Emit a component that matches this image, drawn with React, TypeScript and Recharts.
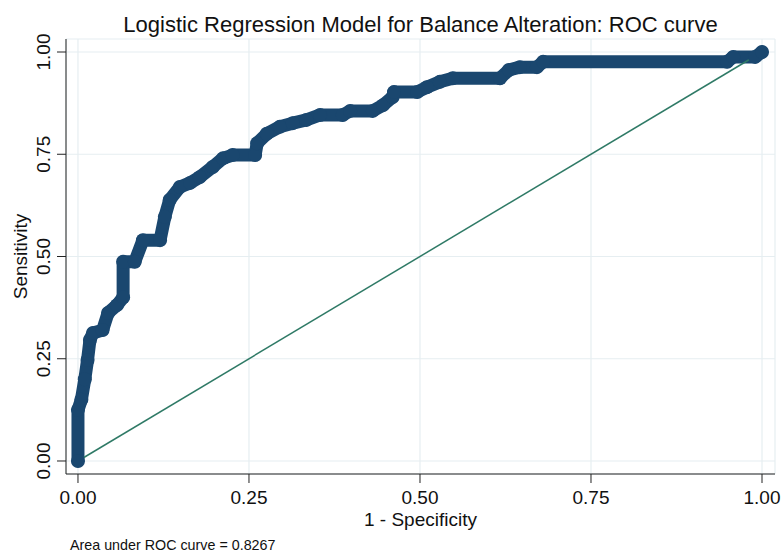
import React from 'react';
import { LineChart, Line, XAxis, YAxis, CartesianGrid } from 'recharts';

// ROC curve points (1 - specificity, sensitivity)
const fprValues = [
  0, 0, 0.005, 0.01, 0.014, 0.0175, 0.022, 0.036, 0.044, 0.057, 0.066, 0.066,
  0.083, 0.095, 0.12, 0.127, 0.134, 0.149, 0.164, 0.178, 0.197, 0.212, 0.226,
  0.259, 0.262, 0.276, 0.295, 0.314, 0.334, 0.354, 0.387, 0.398, 0.431, 0.446,
  0.46, 0.462, 0.496, 0.51, 0.529, 0.548, 0.617, 0.63, 0.646, 0.671, 0.68,
  0.949, 0.958, 0.99, 1,
];
const tprValues = [
  0, 0.125, 0.15, 0.2, 0.247, 0.296, 0.313, 0.32, 0.362, 0.381, 0.4, 0.487,
  0.487, 0.54, 0.54, 0.597, 0.638, 0.67, 0.68, 0.694, 0.719, 0.74, 0.748,
  0.748, 0.777, 0.8, 0.817, 0.826, 0.834, 0.846, 0.846, 0.856, 0.856, 0.87,
  0.89, 0.902, 0.902, 0.914, 0.927, 0.936, 0.936, 0.956, 0.963, 0.963, 0.976,
  0.976, 0.988, 0.988, 1,
];
const diagFpr = [0, 1];
const diagTpr = [0, 1];
const axisTicks = [0, 0.25, 0.5, 0.75, 1];

const titleText = 'Logistic Regression Model for Balance Alteration: ROC curve';
const xTitle = '1 - Specificity';
const yTitle = 'Sensitivity';
const noteText = 'Area under ROC curve = 0.8267';

const rocData = fprValues.map((f, i) => ({ fpr: f, tpr: tprValues[i] }));
const diagData = diagFpr.map((f, i) => ({ fpr: f, tpr: diagTpr[i] }));

const FONT = '"Liberation Sans", Arial, sans-serif';
const W = 783;
const H = 554;
const PLOT = { left: 66, right: 775, top: 39, bottom: 474 };
const fmt = (v: number) => v.toFixed(2);

const YTick = (props: any) => {
  const { x, y, payload } = props;
  const cx = x - 6;
  return (
    <text
      x={cx}
      y={y}
      dy="0.35em"
      textAnchor="middle"
      transform={`rotate(-90 ${cx} ${y})`}
      fontFamily={FONT}
      fontSize={19}
      fill="#111"
    >
      {fmt(payload.value)}
    </text>
  );
};

export default function App() {
  return (
    <div style={{ position: 'absolute', left: 0, top: 0, width: W, height: H, background: '#fff' }}>
      <LineChart
        width={W}
        height={H}
        margin={{ top: PLOT.top, right: W - PLOT.right, bottom: 40, left: 16 }}
      >
        <CartesianGrid stroke="#e6eef1" strokeWidth={1.2} />
        <XAxis
          type="number"
          dataKey="fpr"
          domain={[-0.0175, 1.019]}
          allowDataOverflow
          ticks={axisTicks}
          tickFormatter={fmt}
          height={40}
          tickSize={9}
          tickMargin={8}
          stroke="#222"
          tick={{ fill: '#111', fontSize: 19, fontFamily: FONT }}
        />
        <YAxis
          type="number"
          dataKey="tpr"
          domain={[-0.0318, 1.0318]}
          allowDataOverflow
          ticks={axisTicks}
          width={50}
          tickSize={9}
          tickMargin={8}
          stroke="#222"
          tick={<YTick />}
        />
        <Line
          data={rocData}
          dataKey="tpr"
          type="linear"
          stroke="#1a476f"
          strokeWidth={13}
          strokeLinejoin="round"
          strokeLinecap="round"
          dot={{ r: 7, fill: '#1a476f', stroke: 'none' }}
          activeDot={false}
          isAnimationActive={false}
        />
        <Line
          data={diagData}
          dataKey="tpr"
          type="linear"
          stroke="#2f7a66"
          strokeWidth={1.5}
          dot={false}
          activeDot={false}
          isAnimationActive={false}
        />
      </LineChart>
      <svg
        width={W}
        height={H}
        style={{ position: 'absolute', left: 0, top: 0, pointerEvents: 'none' }}
      >
        <text x={(PLOT.left + PLOT.right) / 2} y={32} textAnchor="middle" fontFamily={FONT} fontSize={22} fill="#111">
          {titleText}
        </text>
        <text x={(PLOT.left + PLOT.right) / 2} y={526} textAnchor="middle" fontFamily={FONT} fontSize={19} fill="#111">
          {xTitle}
        </text>
        <text
          x={20}
          y={(PLOT.top + PLOT.bottom) / 2}
          dy="0.35em"
          textAnchor="middle"
          transform={`rotate(-90 20 ${(PLOT.top + PLOT.bottom) / 2})`}
          fontFamily={FONT}
          fontSize={19}
          fill="#111"
        >
          {yTitle}
        </text>
        <text x={70} y={550} fontFamily={FONT} fontSize={14.3} fill="#111">
          {noteText}
        </text>
      </svg>
    </div>
  );
}
